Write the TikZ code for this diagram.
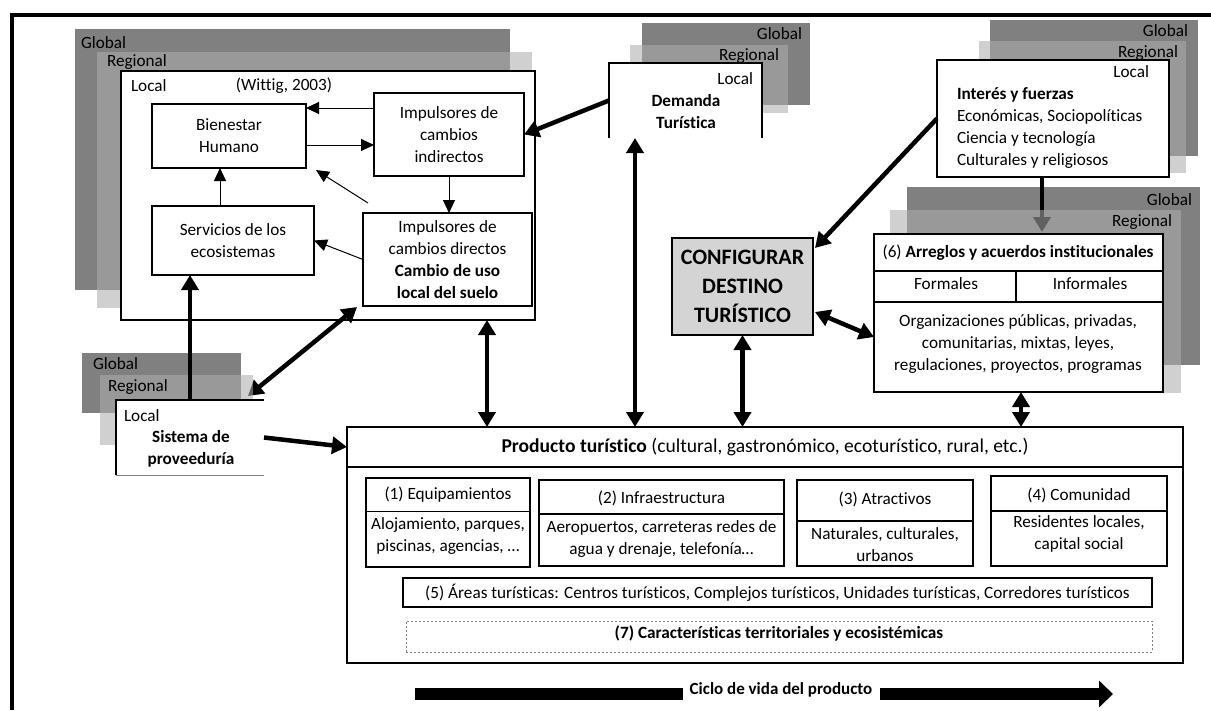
\documentclass[tikz,border=0pt]{standalone}
\usepackage{fontspec}
\setmainfont{Carlito}[Ligatures=NoCommon]
\usetikzlibrary{arrows.meta}
\definecolor{globc}{gray}{0.5}
\definecolor{regc}{gray}{0.675}
\definecolor{confc}{gray}{0.83}
\begin{document}
\begin{tikzpicture}[x=1pt,y=-1pt,
  every node/.style={inner sep=0pt, outer sep=0pt, font=\fontsize{17.2}{22}\selectfont},
  glob/.style={fill=globc},
  regl/.style={fill=regc, fill opacity=0.57},
  box/.style={draw, line width=1.4pt, fill=white},
  divl/.style={line width=1.4pt},
  thinarrow/.style={line width=1pt, -{Triangle[length=13pt,width=12pt]}},
  bigarrow/.style={line width=4.5pt, -{Triangle[length=15pt,width=17pt]}},
  bigdouble/.style={line width=4.5pt, {Triangle[length=15pt,width=17pt]}-{Triangle[length=15pt,width=17pt]}},
  bar/.style={line width=12pt},
]
\useasboundingbox (0,0) rectangle (1211,710);
% outer frame
\draw[line width=4pt] (12,710) -- (12,15) -- (1211,15);

% ---------- top-left stack ----------
\path[glob] (75,29) rectangle (510,290);
\path[regl] (97,52) rectangle (532,308);
\node[box, minimum width=414pt, minimum height=249pt] (locA) at (328,195.5) {};
\node[anchor=west] (gA) at (81,43) {Global};
\node[anchor=west] (rA) at (107,62) {Regional};
\node[anchor=west] (lA) at (131,86) {Local};
\node (witt) at (284,86) {(Wittig, 2003)};
\node[box, minimum width=154pt, minimum height=64pt, align=center] (bien) at (229,136) {Bienestar\\Humano};
\node[box, minimum width=150pt, minimum height=83pt, align=center] (indir) at (449,134.5) {Impulsores de\\cambios\\indirectos};
\node[box, minimum width=162pt, minimum height=69pt, align=center] (serv) at (233,240.5) {Servicios de los\\ecosistemas};
\node[box, minimum width=169pt, minimum height=93pt, align=center] (dir) at (447.5,259.5) {Impulsores de\\cambios directos\\\textbf{Cambio de uso}\\\textbf{local del suelo}};
\draw[thinarrow] (indir.west |- 0,108) -- (bien.east |- 0,108);
\draw[thinarrow] (bien.east |- 0,145) -- (indir.west |- 0,145);
\draw[thinarrow] (serv.north -| 220,0) -- (bien.south -| 220,0);
\draw[thinarrow] (indir.south) -- (dir.north -| indir.south);
\draw[thinarrow] ([shift={(5,-10)}]dir.north west) -- ([shift={(10,2)}]bien.south east);
\draw[thinarrow] (dir.west) -- (serv.east);

% ---------- demanda stack ----------
\path[glob] (642,23) rectangle (810,105);
\path[regl] (630,45) rectangle (788,113);
\node[fill=white, minimum width=153pt, minimum height=75pt] (dem) at (685.5,100.5) {};
\draw[line width=1.2pt] (dem.south west) -- (dem.north west) -- (dem.north east) -- (dem.south east);
\node[anchor=east] (gD) at (802,34) {Global};
\node[anchor=east] (rD) at (779,56) {Regional};
\node[anchor=east] (lD) at (753,79) {Local};
\node[align=center, font=\fontsize{17.2}{22}\selectfont\bfseries] (demt) at (686,111.5) {Demanda\\Turística};

% ---------- interes stack ----------
\path[glob] (990,20) rectangle (1198,156);
\path[regl] (979,41) rectangle (1186,173);
\node[box, minimum width=232pt, minimum height=117pt] (int) at (1053,118.5) {};
\node[anchor=east] (gI) at (1188,31) {Global};
\node[anchor=east] (rI) at (1178,53) {Regional};
\node[anchor=east] (lI) at (1149,72) {Local};
\node[anchor=west, align=left] (intt) at (957,127.5) {\textbf{Interés y fuerzas}\\Económicas, Sociopolíticas\\Ciencia y tecnología\\Culturales y religiosos};

% ---------- arreglos stack ----------
\path[glob] (907,187) rectangle (1200,365);
\draw[bigarrow] (int.south -| 1042,0) -- (1042,232);
\path[regl] (890,210) rectangle (1181,393);
\node[box, minimum width=289pt, minimum height=158pt] (arr) at (1018.5,313) {};
\draw[divl] (arr.west |- 0,271) -- (arr.east |- 0,271);
\draw[divl] (arr.west |- 0,302) -- (arr.east |- 0,302);
\draw[divl] (1016,271) -- (1016,302);
\node[anchor=east] (gR) at (1192,200) {Global};
\node[anchor=east] (rR) at (1172,222) {Regional};
\node (arrt) at (1018,253) {(6) \textbf{Arreglos y acuerdos institucionales}};
\node (formal) at (946,284) {Formales};
\node (informal) at (1090,284) {Informales};
\node[align=center] (arrb) at (1018,344.5) {Organizaciones públicas, privadas,\\comunitarias, mixtas, leyes,\\regulaciones, proyectos, programas};

% ---------- supply stack ----------
\path[glob] (82,353) rectangle (241,413);
\node[minimum width=148pt, minimum height=75pt] (sup) at (190,437.5) {};
\draw[bigdouble] ([shift={(-16,-4)}]sup.north east) -- ([shift={(-6,1)}]dir.south west);
\path[regl] (100,375) rectangle (253,445);
\path[fill=white] (sup.south west) rectangle (sup.north east);
\draw[line width=1.2pt] (sup.south west) -- (sup.north west) -- (sup.north east);
\draw[gray, line width=0.8pt] (sup.south west) -- (sup.south east);
\node[anchor=west] (gS) at (93,364) {Global};
\node[anchor=west] (rS) at (108,387) {Regional};
\node[anchor=west] (lS) at (124,416) {Local};
\node[align=center, font=\fontsize{17.2}{22}\selectfont\bfseries] (supt) at (191,449) {Sistema de\\proveeduría};

% ---------- configurar ----------
\node[draw, line width=2pt, fill=confc, minimum width=141pt, minimum height=97pt, align=center, font=\fontsize{22}{29}\selectfont\bfseries] (conf) at (742.5,286.5) {CONFIGURAR\\DESTINO\\TURÍSTICO};

% ---------- product ----------
\node[box, line width=1.6pt, minimum width=836pt, minimum height=236pt] (prod) at (765,545) {};
\draw[divl] (prod.west |- 0,467) -- (prod.east |- 0,467);
\node[font=\fontsize{19.6}{22}\selectfont] (prodt) at (765,447) {\textbf{Producto turístico} (cultural, gastronómico, ecoturístico, rural, etc.)};

\node[box, minimum width=164pt, minimum height=89pt] (eq) at (448,522.5) {};
\draw[divl] (eq.west |- 0,511.5) -- (eq.east |- 0,511.5);
\node (eqt) at (448,495) {(1) Equipamientos};
\node[align=center] (eqb) at (448,536) {Alojamiento, parques,\\piscinas, agencias, …};

\node[box, minimum width=245pt, minimum height=86pt] (inf) at (661.5,523) {};
\draw[divl] (inf.west |- 0,514) -- (inf.east |- 0,514);
\node (inft) at (661.5,498) {(2) Infraestructura};
\node[align=center] (infb) at (661.5,539) {Aeropuertos, carreteras redes de\\agua y drenaje, telefonía…};

\node[box, minimum width=176pt, minimum height=86pt] (atr) at (885,523) {};
\draw[divl] (atr.west |- 0,521) -- (atr.east |- 0,521);
\node (atrt) at (885,499) {(3) Atractivos};
\node[align=center] (atrb) at (885,545) {Naturales, culturales,\\urbanos};

\node[box, minimum width=176pt, minimum height=90pt] (com) at (1079,521) {};
\draw[divl] (com.west |- 0,511) -- (com.east |- 0,511);
\node (comt) at (1079,495.5) {(4) Comunidad};
\node[align=center] (comb) at (1079,533.5) {Residentes locales,\\capital social};

\node[box, minimum width=749pt, minimum height=29pt] (areas) at (777.5,592.5) {(5) Áreas turísticas: Centros turísticos, Complejos turísticos, Unidades turísticas, Corredores turísticos};

\node[draw=gray, line width=0.7pt, dash pattern=on 2pt off 2pt, minimum width=746pt, minimum height=31pt] (terr) at (779,636.5) {};
\node[font=\fontsize{17.2}{22}\selectfont\bfseries] (terrt) at (779,633) {(7) Características territoriales y ecosistémicas};

% ---------- thick connectors ----------
\draw[bigarrow] (dem.west) -- (indir.east);
\draw[bigarrow] (int.west) -- ([shift={(2,10)}]conf.north east);
\draw[bigdouble] ([shift={(2,25.5)}]conf.east) -- ([shift={(0,24)}]arr.west);
\draw[bigdouble] (conf.south) -- (prod.north -| conf.south);
\draw[bigdouble] (dem.south -| 635,0) -- (prod.north -| 635,0);
\draw[bigdouble] (locA.south -| 487,0) -- (prod.north -| 487,0);
\draw[bigdouble] (arr.south -| 1021,0) -- (prod.north -| 1021,0);
\draw[bigarrow] (sup.north) -- (serv.south -| sup.north);
\draw[bigarrow] (sup.east) -- ([shift={(0,20)}]prod.north west);

% ---------- life cycle ----------
\node[font=\fontsize{17}{20}\selectfont\bfseries] (ciclo) at (781,690) {Ciclo de vida del producto};
\coordinate (c1) at (415,694);
\coordinate (c4) at (1113,694);
\draw[bar] (c1) -- ([shift={(-7,4)}]ciclo.west);
\draw[bar, -{Triangle[length=14pt,width=26pt]}] ([shift={(8,4)}]ciclo.east) -- (c4);
\end{tikzpicture}
\end{document}
